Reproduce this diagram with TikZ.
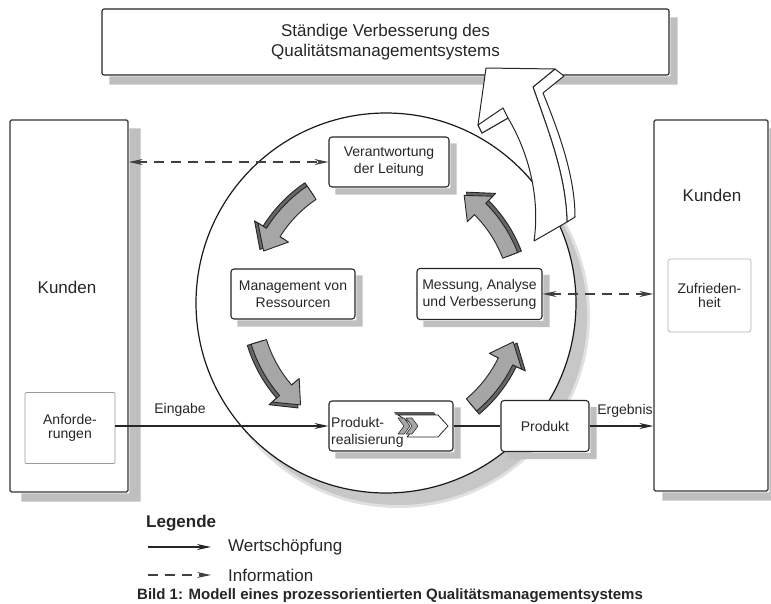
\documentclass[tikz,border=0pt]{standalone}
\usepackage{fontspec}
\setmainfont{Liberation Sans}
\usetikzlibrary{arrows.meta,calc}

% curved block arrow on a ring around the process circle
% #1 tail angle, #2 head base angle, #3 tip angle, #4 ring radius, #5 style
\newcommand\ringarrow[5]{%
  \filldraw[#5] plot[domain=#1:#2,samples=14] ({386+(#4+8)*cos(\x)},{303-(#4+8)*sin(\x)})
    -- ({386+(#4+18)*cos(#2)},{303-(#4+18)*sin(#2)})
    -- ({386+#4*cos(#3)},{303-#4*sin(#3)})
    -- ({386+(#4-18)*cos(#2)},{303-(#4-18)*sin(#2)})
    -- plot[domain=#2:#1,samples=14] ({386+(#4-8)*cos(\x)},{303-(#4-8)*sin(\x)})
    -- cycle;}

% L-shaped grey shadow along the right and lower side of a node
% #1 node name, #2 right offset, #3 downward offset
\newcommand\lshadow[3]{%
  \fill[shadowfill] ($(#1.north east)+(0.7,#3)$) -- ($(#1.north east)+(#2,#3)$)
    -- ($(#1.south east)+(#2,#3)$) -- ($(#1.south west)+(#2,#3)$)
    -- ($(#1.south west)+(#2,0.7)$) -- ($(#1.south east)+(0.7,0.7)$) -- cycle;}

\tikzset{
  txt/.style={text=black!85, inner sep=0pt},
  big/.style={txt, font=\fontsize{17}{20}\selectfont},
  lbl/.style={txt, font=\fontsize{14}{17}\selectfont},
  box/.style={draw=black!85, line width=1.1pt, fill=white, rounded corners=3pt,
    align=center, lbl},
  shadowfill/.style={fill=black!25},
  kbox/.style={draw=black!80, line width=1.3pt, fill=white, rounded corners=1.5pt},
  subbox/.style={draw=black!40, line width=0.7pt, fill=white, align=center,
    txt, font=\fontsize{14}{14.5}\selectfont},
  flow/.style={draw=black!85, line width=1.1pt},
  info/.style={draw=black!75, line width=1.2pt, dash pattern=on 10pt off 7pt},
  ringfront/.style={fill=black!35, draw=black!85, line width=0.9pt},
  ringback/.style={fill=black!60, draw=black!85, line width=0.9pt},
  bigarrow/.style={fill=white, draw=black!85, line width=1pt},
  >={Stealth[length=14pt,width=6pt]}
}

\begin{document}
\begin{tikzpicture}[x=1pt,y=-1pt,line join=round]
\useasboundingbox (0,0) rectangle (771,603);
\fill[white] (0,0) -- (771,0) -- (771,603) -- (0,603) -- cycle;

% process circle with its shadow
\fill[black!12] (398,316) circle[radius=192pt];
\fill[black!22] (398,316) circle[radius=189pt];
\draw[fill=white, line width=1.2pt, draw=black!90] (386,303) circle[radius=190pt];

% customers on both sides
\node[kbox, minimum width=118pt, minimum height=372pt] (kl) at (69,306) {};
\lshadow{kl}{12}{9}
\node[big] (klt) at (67,287) {Kunden};
\node[subbox, minimum width=90pt, minimum height=71pt, rounded corners=1pt] (anf) at (70,428) {Anforde-\\rungen};

\node[kbox, minimum width=114pt, minimum height=371pt] (kr) at (711,305.5) {};
\lshadow{kr}{9}{9}
\node[big] (krt) at (712,195) {Kunden};
\node[subbox, minimum width=83pt, minimum height=73pt, rounded corners=2.5pt, draw=black!30] (zuf) at (709.5,295.5) {Zufrieden-\\heit};

% top box
\node[box, minimum width=567pt, minimum height=66pt, rounded corners=2pt, big] (top) at (385.5,42) {Ständige Verbesserung des\\Qualitätsmanagementsystems};
\lshadow{top}{8}{9}

% curved arrows of the process cycle
\ringarrow{124}{148}{157}{137}{ringback}
\ringarrow{124}{148}{157}{133}{ringfront}
\ringarrow{21}{45}{54}{137}{ringback}
\ringarrow{21}{45}{54}{133}{ringfront}
\ringarrow{197}{221}{230}{137}{ringback}
\ringarrow{197}{221}{230}{133}{ringfront}
\ringarrow{310}{334}{343}{137}{ringback}
\ringarrow{310}{334}{343}{133}{ringfront}

% process boxes with their shadows
\node[box, minimum width=120pt, minimum height=50pt] (vl) at (389,162) {Verantwortung\\der Leitung};
\lshadow{vl}{7}{7}
\node[box, minimum width=124pt, minimum height=50pt] (mr) at (293,294) {Management von\\Ressourcen};
\lshadow{mr}{7}{7}
\node[box, minimum width=125pt, minimum height=51pt] (mav) at (479.5,294) {Messung, Analyse\\und Verbesserung};
\lshadow{mav}{7}{7}
\node[box, minimum width=124pt, minimum height=50pt] (pr) at (391,426) {};
\lshadow{pr}{7}{7}
\node[lbl, anchor=west, align=left] (prt) at (331,432) {Produkt-\\realisierung};
\node[box, minimum width=88pt, minimum height=51pt] (pd) at (545,426) {Produkt};
\lshadow{pd}{7}{7}

% process symbol inside the realisation box
\fill[black!65] (394,412) -- (434,412) -- (436,415) -- (396,415) -- cycle;
\draw[bigarrow, line width=0.8pt] (398,415) -- (438,415) -- (448,426) -- (438,437) -- (407,437) -- (416,426) -- cycle;
\filldraw[fill=black!35, draw=black!80, line width=0.6pt] (398,418) -- (404,418) -- (410,426) -- (404,434) -- (398,434) -- (404,426) -- cycle;
\filldraw[fill=black!35, draw=black!80, line width=0.6pt] (406,418) -- (412,418) -- (418,426) -- (412,434) -- (406,434) -- (412,426) -- cycle;

% big arrow of continual improvement: side strip, front face, barb underside
\draw[bigarrow] (555,69) -- (564,76) -- (543,93) .. controls (558,130) and (575,175) .. (575,217)
  -- (567,222) .. controls (566,175) and (548,130) .. (533,87) -- cycle;
\draw[bigarrow] (486,68) -- (555,69) -- (533,87)
  .. controls (548,130) and (566,175) .. (567,222) -- (534,241)
  .. controls (540,200) and (530,155) .. (508,118) -- (482,133) -- (478,125) -- cycle;
\draw[bigarrow] (478,125) -- (503,108) -- (508,118) -- (482,133) -- cycle;

% value chain
\draw[flow,->] (anf.east |- pr.west) -- (pr.west);
\draw[flow] (pr.east) -- (pd.west);
\draw[flow,->] (pd.east) -- (pd.east -| kr.west);
\node[lbl] (ein) at (180,410) {Eingabe};
\node[lbl] (erg) at (625,411) {Ergebnis};

% information flows
\draw[info,<->] (vl.west -| kl.east) -- (vl.west);
\draw[info,<->] (mav.east) -- (mav.east -| kr.west);

% legend
\node[txt, anchor=west, font=\fontsize{17}{20}\selectfont\bfseries] (leg) at (146,523) {Legende};
\coordinate (la1) at (148,547);
\coordinate (lb1) at (211,547);
\draw[flow,->] (la1) -- (lb1);
\node[big, anchor=west] (lt1) at (228,547) {Wertschöpfung};
\coordinate (la2) at (148,575);
\coordinate (lb2) at (211,575);
\draw[info,->] (la2) -- (lb2);
\node[big, anchor=west] (lt2) at (228,575) {Information};

% caption
\node[txt, anchor=west, font=\fontsize{15}{18}\selectfont\bfseries] (cap) at (137,596) {Bild 1: Modell eines prozessorientierten Qualitätsmanagementsystems};
\end{tikzpicture}
\end{document}
